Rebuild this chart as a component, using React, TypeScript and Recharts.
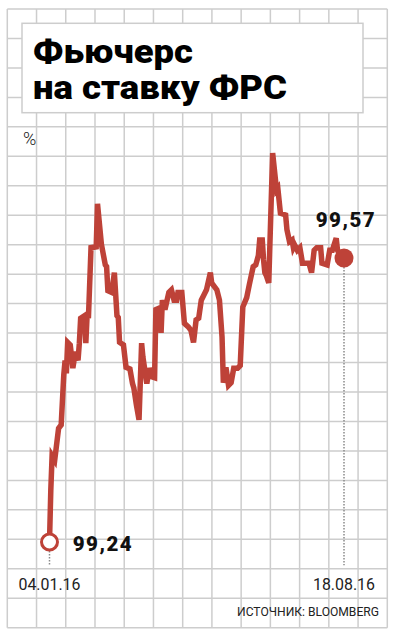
import React from 'react';
import { LineChart, Line, XAxis, YAxis, ReferenceDot, ReferenceLine } from 'recharts';

// day of year 2016 -> futures price
const days = [
  4, 5, 6, 8, 11, 13, 15, 16, 17, 18, 20, 22, 24, 26, 27, 28, 31, 32, 33, 34,
  36, 40, 41, 44, 47, 48, 49, 52, 54, 56, 57, 58, 61, 63, 66, 68, 69, 71, 73, 75,
  76, 79, 81, 83, 85, 86, 89, 90, 91, 93, 96, 98, 100, 102, 103, 105, 106, 108, 111, 113,
  115, 117, 119, 121, 123, 125, 128, 129, 133, 135, 137, 138, 140, 142, 144, 146, 149, 151, 153, 156,
  158, 161, 163, 165, 166, 168, 169, 170, 171, 173, 176, 179, 180, 182, 186, 187, 189, 191, 192, 193,
  195, 197, 199, 202, 204, 206, 208, 210, 213, 214, 218, 220, 222, 225, 226, 228, 231,
];
const rates = [
  99.24, 99.3, 99.34, 99.335, 99.372, 99.376, 99.434, 99.451, 99.436, 99.472,
  99.469, 99.442, 99.461, 99.451, 99.471, 99.5, 99.503, 99.471, 99.504, 99.5,
  99.582, 99.583, 99.633, 99.586, 99.562, 99.56, 99.532, 99.53, 99.553, 99.503,
  99.501, 99.472, 99.469, 99.443, 99.441, 99.424, 99.419, 99.399, 99.382, 99.471,
  99.455, 99.424, 99.442, 99.432, 99.431, 99.51, 99.512, 99.483, 99.521, 99.51,
  99.53, 99.533, 99.521, 99.521, 99.53, 99.53, 99.53, 99.494, 99.49, 99.486,
  99.472, 99.498, 99.5, 99.521, 99.527, 99.533, 99.553, 99.541, 99.533, 99.521,
  99.478, 99.425, 99.443, 99.422, 99.425, 99.442, 99.442, 99.445, 99.513, 99.524,
  99.539, 99.56, 99.562, 99.573, 99.591, 99.591, 99.568, 99.553, 99.55, 99.541,
  99.692, 99.649, 99.651, 99.622, 99.62, 99.603, 99.589, 99.591, 99.582, 99.585,
  99.579, 99.582, 99.564, 99.564, 99.564, 99.553, 99.579, 99.582, 99.582, 99.564,
  99.562, 99.579, 99.579, 99.593, 99.579, 99.573, 99.57,
];
const tickDays = [4, 231];
const tickLabels = ['04.01.16', '18.08.16'];
const titleLines = ['Фьючерс', 'на ставку ФРС'];
const unitLabel = '%';
const sourceLabel = 'ИСТОЧНИК: BLOOMBERG';

const data = days.map((day, i) => ({ day, rate: rates[i] }));
const first = data[0];
const last = data[data.length - 1];

const RED = '#be4238';
const GRID = '#cdcdcd';
const FONT = 'Roboto, "Noto Sans", sans-serif';

const W = 395;
const H = 640;

function Background() {
  const cols = 13;
  const rows = 21;
  const x0 = 7.3, x1 = 387.3, y0 = 9, y1 = 627.7;
  const vs = Array.from({ length: cols + 1 }, (_, i) => x0 + ((x1 - x0) * i) / cols);
  const hs = Array.from({ length: rows + 1 }, (_, i) => y0 + ((y1 - y0) * i) / rows);
  return (
    <svg width={W} height={H} style={{ position: 'absolute', left: 0, top: 0 }}>
      <rect width={W} height={H} fill="#fff" />
      {vs.map((x) => (
        <line key={'v' + x} x1={x} x2={x} y1={y0} y2={y1} stroke={GRID} strokeWidth={1.5} />
      ))}
      {hs.map((y) => (
        <line key={'h' + y} x1={x0} x2={x1} y1={y} y2={y} stroke={GRID} strokeWidth={1.5} />
      ))}
      <rect x={22} y={23.3} width={341} height={89.4} fill="#fff" stroke={GRID} strokeWidth={1.5} />
      <text
        x={33}
        y={63.3}
        fontFamily={FONT}
        fontWeight={900}
        fontSize={33}
        fill="#000"
        textLength={160}
        lengthAdjust="spacingAndGlyphs"
      >
        {titleLines[0]}
      </text>
      <text
        x={33}
        y={99}
        fontFamily={FONT}
        fontWeight={900}
        fontSize={33}
        fill="#000"
        textLength={254}
        lengthAdjust="spacingAndGlyphs"
      >
        {titleLines[1]}
      </text>
      <text x={23} y={145} fontFamily={FONT} fontWeight={300} fontSize={18} fill="#222">
        {unitLabel}
      </text>
      <text
        x={379}
        y={616}
        textAnchor="end"
        fontFamily={FONT}
        fontSize={13.5}
        fill="#222"
        textLength={142}
        lengthAdjust="spacingAndGlyphs"
      >
        {sourceLabel}
      </text>
    </svg>
  );
}

const fmt = (v: number) => v.toFixed(2).replace('.', ',');

const valueLabel = (text: string, dx: number, dy: number) => (props: any) => {
  const vb = props.viewBox || {};
  const cx = vb.x + vb.width / 2;
  const cy = vb.y + vb.height / 2;
  return (
    <text
      x={cx + dx}
      y={cy + dy}
      fontFamily={FONT}
      fontWeight={900}
      fontSize={20.5}
      letterSpacing={1.5}
      fill="#111"
    >
      {text}
    </text>
  );
};

const DateTick = (props: any) => {
  const idx = tickDays.indexOf(props.payload.value);
  return (
    <text
      x={props.x}
      y={590}
      textAnchor="middle"
      fontFamily={FONT}
      fontSize={17}
      fill="#222"
      textLength={62}
      lengthAdjust="spacingAndGlyphs"
    >
      {tickLabels[idx]}
    </text>
  );
};

export default function App() {
  return (
    <div style={{ position: 'absolute', left: 0, top: 0, width: W, height: H }}>
      <Background />
      <div style={{ position: 'absolute', left: 0, top: 0 }}>
        <LineChart
          width={W}
          height={H}
          data={data}
          margin={{ top: 103.1, right: 51, bottom: 42.2, left: 49.5 }}
        >
          <XAxis
            dataKey="day"
            type="number"
            domain={[4, 231]}
            ticks={tickDays}
            axisLine={false}
            tickLine={false}
            height={30}
            tick={DateTick}
            interval={0}
          />
          <YAxis hide width={0} type="number" domain={[99.21, 99.75]} allowDataOverflow />
          <ReferenceLine
            segment={[{ x: first.day, y: first.rate }, { x: first.day, y: 99.213 }]}
            stroke="#8a8a8a"
            strokeWidth={1.5}
            strokeDasharray="1.5 1.5"
          />
          <ReferenceLine
            segment={[{ x: last.day, y: last.rate }, { x: last.day, y: 99.213 }]}
            stroke="#8a8a8a"
            strokeWidth={1.5}
            strokeDasharray="1.5 1.5"
          />
          <Line
            type="linear"
            dataKey="rate"
            stroke={RED}
            strokeWidth={5.5}
            dot={false}
            activeDot={false}
            isAnimationActive={false}
          />
          <ReferenceDot
            x={first.day}
            y={first.rate}
            r={8}
            fill="#fff"
            stroke={RED}
            strokeWidth={3}
            label={valueLabel(fmt(first.rate), 23.2, 8.7)}
          />
          <ReferenceDot
            x={last.day}
            y={last.rate}
            r={9.5}
            fill={RED}
            stroke="none"
            label={valueLabel(fmt(last.rate), -28.3, -31.5)}
          />
        </LineChart>
      </div>
    </div>
  );
}
